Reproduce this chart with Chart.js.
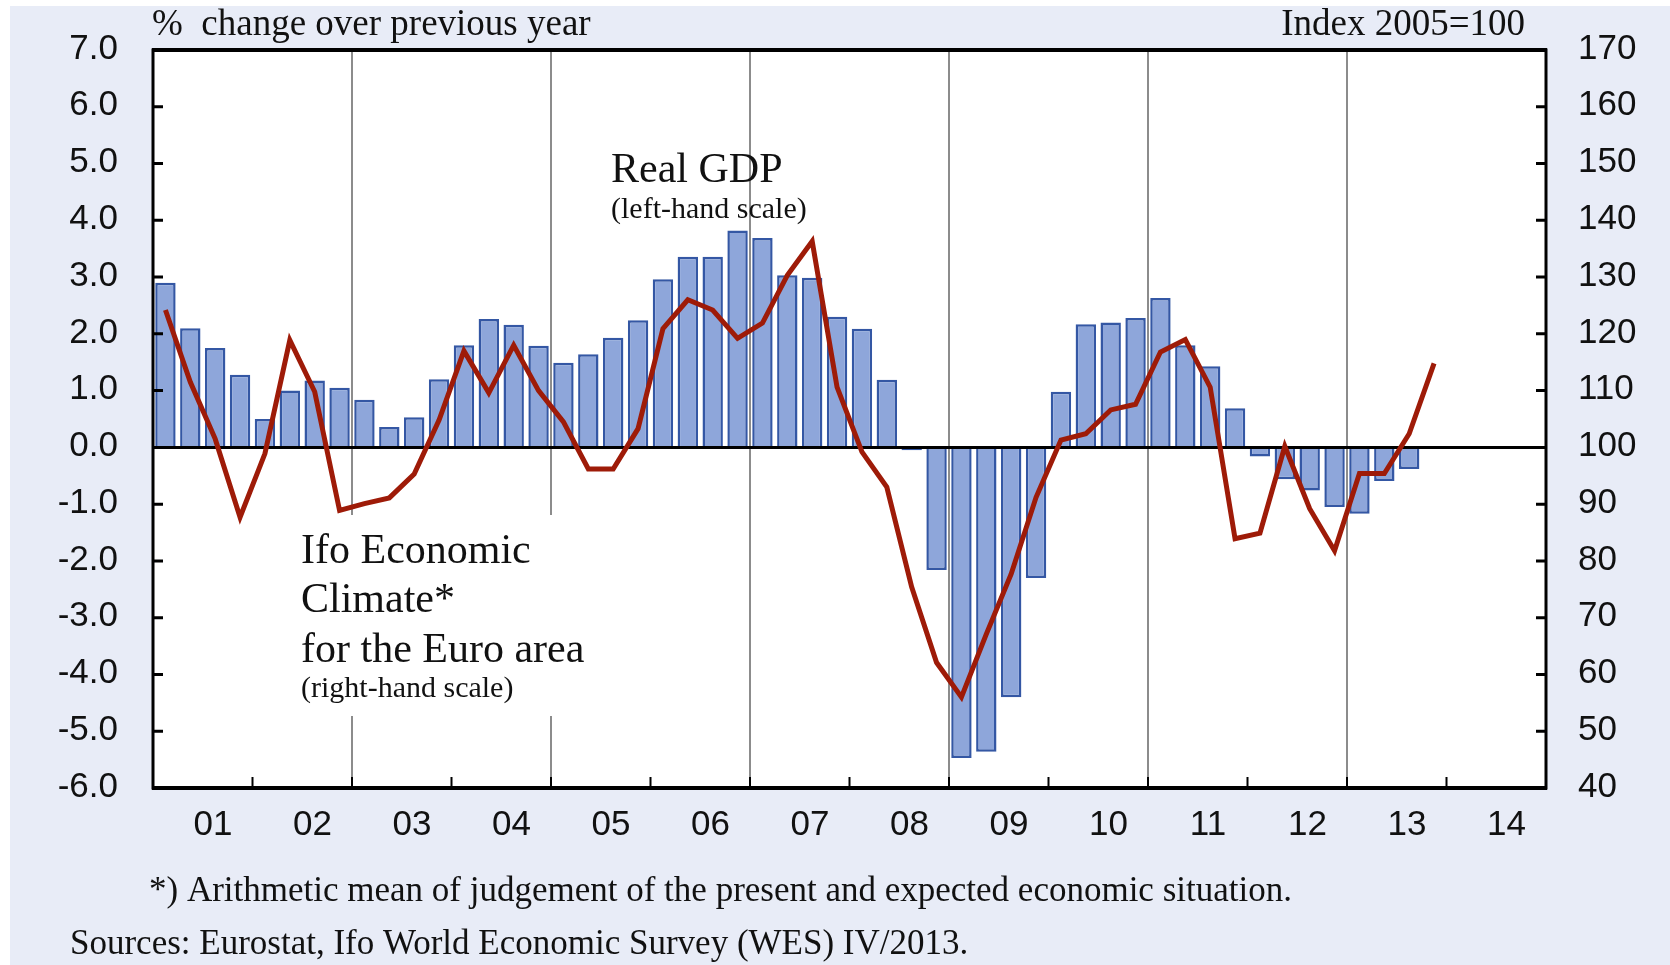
<!DOCTYPE html>
<html>
<head>
<meta charset="utf-8">
<script src="https://cdn.jsdelivr.net/npm/chart.js@4"></script>
<style>
  html, body { margin: 0; padding: 0; background: #fff; }
  #wrap { width: 1670px; height: 965px; }
</style>
</head>
<body>
<div id="wrap"><canvas id="gdpChart" width="1670" height="965"></canvas></div>
<script>
// quarterly categories 2001 Q1 .. 2014 Q4
const years = [2001, 2002, 2003, 2004, 2005, 2006, 2007, 2008, 2009, 2010, 2011, 2012, 2013, 2014];
const quarters = [];
years.forEach(function (y) {
    ["Q1", "Q2", "Q3", "Q4"].forEach(function (q) { quarters.push(y + " " + q); });
});
const yearLabels = ["01", "02", "03", "04", "05", "06", "07", "08", "09", "10", "11", "12", "13", "14"];

// Real GDP, % change over previous year (left-hand scale)
const realGdp = [
    2.9, 2.1, 1.75, 1.28, 0.5, 1.0, 1.18, 1.05, 0.84, 0.36, 0.53, 1.2,
    1.8, 2.26, 2.16, 1.79, 1.49, 1.64, 1.93, 2.24, 2.96, 3.36, 3.36, 3.82,
    3.69, 3.03, 2.99, 2.3, 2.09, 1.19, -0.05, -2.16, -5.47, -5.36, -4.4, -2.3,
    0.98, 2.17, 2.2, 2.28, 2.63, 1.8, 1.43, 0.69, -0.16, -0.56, -0.76, -1.05,
    -1.17, -0.59, -0.38
];

// Ifo Economic Climate for the Euro area, index 2005=100 (right-hand scale)
const ifoClimate = [
    124.2, 111.5, 101.5, 87.7, 98.9, 118.9, 109.8, 88.9, 90.1, 91.1, 95.3, 104.8,
    117.0, 109.6, 118.0, 110.0, 104.5, 96.2, 96.2, 103.3, 120.9, 126.0, 124.2, 119.2,
    121.9, 130.3, 136.3, 110.6, 99.2, 93.0, 75.4, 62.1, 56.0, 67.1, 77.7, 91.2,
    101.3, 102.4, 106.6, 107.6, 116.8, 119.0, 110.6, 83.9, 84.9, 100.2, 89.2, 81.8,
    95.4, 95.4, 102.4, 114.8
];

const SERIF = "'Liberation Serif', 'Times New Roman', serif";
const SANS = "'Liberation Sans', Arial, sans-serif";

const decoPlugin = {
    id: "deco",
    beforeDraw(chart) {
        const c = chart.ctx, a = chart.chartArea;
        c.save();
        c.fillStyle = "#ffffff";
        c.fillRect(0, 0, chart.width, chart.height);
        c.fillStyle = "#e8ecf7";
        c.fillRect(10, 6, chart.width - 10, chart.height - 6);
        c.fillStyle = "#ffffff";
        c.fillRect(a.left, a.top, a.right - a.left, a.bottom - a.top);
        c.restore();
    },
    beforeDatasetsDraw(chart) {
        // white box behind the Ifo label hides the grid lines
        const c = chart.ctx;
        c.save();
        c.fillStyle = "#ffffff";
        c.fillRect(298, 515, 300, 201);
        c.restore();
    },
    afterDatasetDraw(chart, args) {
        if (args.meta.type !== "bar") return;
        const c = chart.ctx, a = chart.chartArea;
        const y0 = chart.scales.y.getPixelForValue(0);
        c.save();
        c.strokeStyle = "#000";
        c.lineWidth = 3;
        c.beginPath();
        c.moveTo(a.left, y0);
        c.lineTo(a.right, y0);
        c.stroke();
        c.restore();
    },
    afterDraw(chart) {
        const c = chart.ctx, a = chart.chartArea;
        const yl = chart.scales.y, yr = chart.scales.y1, xy = chart.scales.xYear;
        c.save();
        c.strokeStyle = "#000";
        // inward tick marks
        c.lineWidth = 3;
        c.beginPath();
        yl.ticks.forEach(function (t) {
            const p = yl.getPixelForValue(t.value);
            c.moveTo(a.left, p); c.lineTo(a.left + 10, p);
        });
        yr.ticks.forEach(function (t) {
            const p = yr.getPixelForValue(t.value);
            c.moveTo(a.right, p); c.lineTo(a.right - 10, p);
        });
        c.stroke();
        c.lineWidth = 2;
        c.beginPath();
        xy.ticks.forEach(function (t) {
            const p = xy.getPixelForValue(t.value);
            c.moveTo(p, a.bottom); c.lineTo(p, a.bottom - 11);
        });
        c.stroke();
        // frame
        c.lineWidth = 3;
        c.strokeRect(a.left, a.top, a.right - a.left, a.bottom - a.top);
        c.lineWidth = 4;
        c.beginPath();
        c.moveTo(a.left - 1, a.top); c.lineTo(a.right + 1, a.top);
        c.moveTo(a.left - 1, a.bottom); c.lineTo(a.right + 1, a.bottom);
        c.stroke();

        // texts
        c.fillStyle = "#111";
        c.textBaseline = "alphabetic";
        c.textAlign = "left";
        c.font = "37px " + SERIF;
        c.fillText("%  change over previous year", 152, 35);
        c.textAlign = "right";
        c.fillText("Index 2005=100", 1525, 35);
        c.textAlign = "left";

        c.font = "42px " + SERIF;
        c.fillText("Real GDP", 611, 182);
        c.font = "30px " + SERIF;
        c.fillText("(left-hand scale)", 611, 218);

        c.font = "42px " + SERIF;
        c.fillText("Ifo Economic", 301, 563);
        c.fillText("Climate*", 301, 612);
        c.fillText("for the Euro area", 301, 662);
        c.font = "30px " + SERIF;
        c.fillText("(right-hand scale)", 301, 697);

        c.font = "35px " + SERIF;
        c.fillText("*) Arithmetic mean of judgement of the present and expected economic situation.", 149, 901);
        c.fillText("Sources: Eurostat, Ifo World Economic Survey (WES) IV/2013.", 70, 954);
        c.restore();
    }
};

const gdpChart = new Chart(document.getElementById("gdpChart"), {
    type: "bar",
    data: {
        labels: quarters,
        datasets: [
            {
                type: "line",
                label: "Ifo Economic Climate",
                data: ifoClimate,
                yAxisID: "y1",
                borderColor: "#9e1b08",
                borderWidth: 5,
                pointRadius: 0,
                tension: 0,
                order: 0
            },
            {
                type: "bar",
                label: "Real GDP",
                data: realGdp,
                yAxisID: "y",
                backgroundColor: "#8ea6da",
                borderColor: "#3457a4",
                borderWidth: 2.5,
                barPercentage: 0.82,
                categoryPercentage: 1.0,
                order: 1
            }
        ]
    },
    options: {
        responsive: false,
        animation: false,
        layout: { padding: { top: 50, left: 0, right: 0, bottom: 0 } },
        plugins: {
            legend: { display: false },
            tooltip: { enabled: false }
        },
        scales: {
            x: {
                type: "category",
                display: false,
                offset: true
            },
            xYear: {
                type: "linear",
                position: "bottom",
                min: 0,
                max: 14,
                offset: false,
                afterBuildTicks(scale) {
                    scale.ticks = years.map(function (y, i) { return { value: i }; }).concat([{ value: 14 }]);
                },
                afterFit(scale) { scale.height = 177; },
                grid: {
                    offset: false,
                    drawTicks: false,
                    color(ctx) {
                        const v = ctx.tick ? ctx.tick.value : -1;
                        return (v > 0 && v < 14 && v % 2 === 0) ? "#8c8c8c" : "rgba(0,0,0,0)";
                    },
                    lineWidth: 2
                },
                border: { display: false },
                ticks: {
                    padding: 16,
                    labelOffset: 60,
                    maxRotation: 0,
                    autoSkip: false,
                    color: "#111",
                    font: { family: SANS, size: 35 },
                    callback(v) { return yearLabels[v] || ""; }
                }
            },
            y: {
                position: "left",
                min: -6,
                max: 7,
                afterFit(scale) { scale.width = 153; },
                grid: { display: false },
                border: { display: false },
                ticks: {
                    stepSize: 1,
                    padding: 27,
                    labelOffset: -1,
                    color: "#111",
                    font: { family: SANS, size: 35 },
                    callback(v) { return v.toFixed(1); }
                }
            },
            y1: {
                position: "right",
                min: 40,
                max: 170,
                afterFit(scale) { scale.width = 124; },
                grid: { display: false },
                border: { display: false },
                ticks: {
                    stepSize: 10,
                    padding: 24,
                    labelOffset: -1,
                    color: "#111",
                    font: { family: SANS, size: 35 }
                }
            }
        }
    },
    plugins: [decoPlugin]
});
</script>
</body>
</html>
